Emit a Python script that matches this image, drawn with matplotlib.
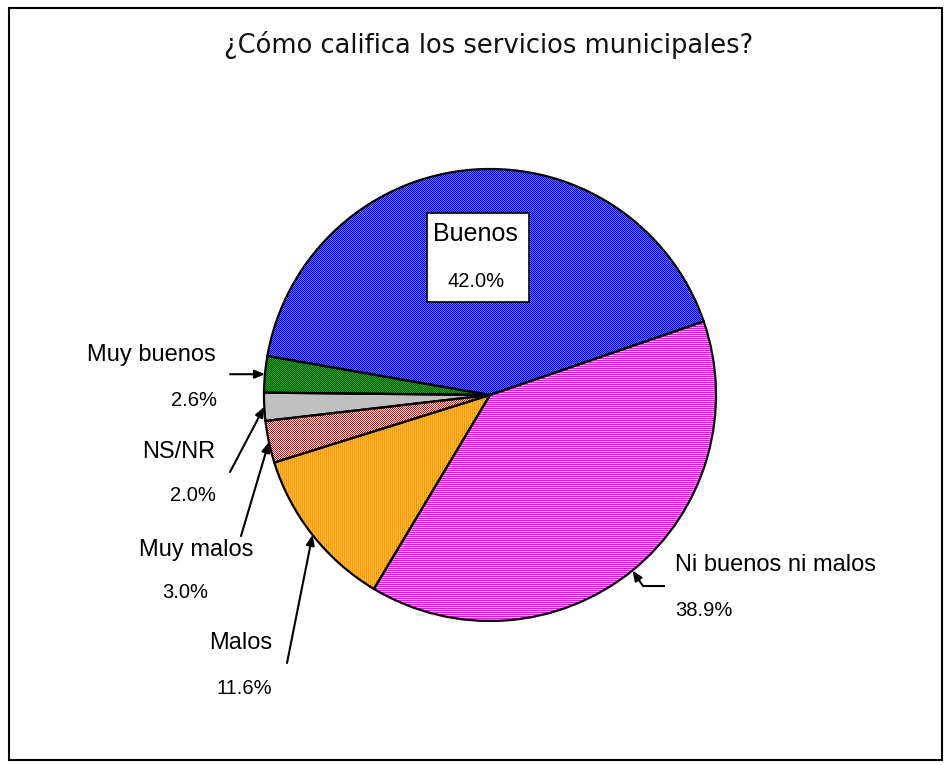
import numpy as np
import matplotlib
matplotlib.use("Agg")
import matplotlib.pyplot as plt
from matplotlib.patches import Rectangle

# ---- data ----
categories = ["Buenos", "Muy buenos", "NS/NR", "Muy malos", "Malos", "Ni buenos ni malos"]
values = [42.0, 2.6, 2.0, 3.0, 11.6, 38.9]
pct_labels = ["42.0%", "2.6%", "2.0%", "3.0%", "11.6%", "38.9%"]
title = "¿Cómo califica los servicios municipales?"

# ---- style ----
face_colors = ["#3333ff", "#2b8a2b", "#c0c0c0", "#ff6666", "#ff9a10", "#ff4dff"]
# two-tone textures: (colour A, colour B, pattern kind)
textures = [
    ((0, 0, 255), (110, 110, 255), "checker"),
    ((51, 153, 51), (0, 100, 0), "checker"),
    ((192, 192, 192), (192, 192, 192), "solid"),
    ((255, 0, 0), (255, 255, 255), "checker"),
    ((255, 153, 0), (255, 185, 70), "vlines"),
    ((255, 0, 255), (255, 160, 255), "hlines"),
]

W, H = 951, 765
fig = plt.figure(figsize=(W / 100, H / 100), dpi=100)
ax = fig.add_axes([0, 0, 1, 1])


def Y(y):
    return H - y


cx, cy, R = 490, Y(395), 226

wedges, _ = ax.pie(values, colors=face_colors, startangle=19, counterclock=True,
                   center=(cx, cy), radius=R, frame=True,
                   wedgeprops=dict(linewidth=0, edgecolor="none"))

# pixel textures clipped to each wedge
ii, jj = np.mgrid[0:H, 0:W]
for w, (ca, cb, kind) in zip(wedges, textures):
    if kind == "checker":
        m = (ii + jj) % 2 == 0
    elif kind == "vlines":
        m = jj % 2 == 0
    elif kind == "hlines":
        m = ii % 2 == 0
    else:
        m = np.ones((H, W), bool)
    img = np.where(m[..., None], np.array(ca, np.uint8), np.array(cb, np.uint8)).astype(np.uint8)
    im = ax.imshow(img, extent=(0, W, 0, H), origin="upper", interpolation="nearest",
                   zorder=1.5)
    im.set_clip_path(w)

# outlines
ax.pie(values, colors=["none"] * len(values), startangle=19, counterclock=True,
       center=(cx, cy), radius=R, frame=True,
       wedgeprops=dict(linewidth=1.6, edgecolor="black", facecolor="none", zorder=3))
ax.set_xlim(0, W)
ax.set_ylim(0, H)
ax.set_aspect("equal")
ax.axis("off")

LBL = dict(family="Liberation Sans", fontsize=17, color="black")
PCT = dict(family="Liberation Sans", fontsize=14.5, color="black")


def tip(w):
    th = np.deg2rad((w.theta1 + w.theta2) / 2)
    return cx + R * np.cos(th), cy + R * np.sin(th)


arrow = dict(arrowstyle="-|>,head_length=0.6,head_width=0.25", color="black",
             lw=1.5, shrinkA=0, shrinkB=0)

# Buenos label inside box
bx0, bx1, by0, by1 = 427, 529, 213, 302
ax.add_patch(Rectangle((bx0, Y(by1)), bx1 - bx0, by1 - by0, facecolor="white",
                       edgecolor="black", lw=1.2, zorder=5))
ax.text(475, Y(234), categories[0], ha="center", va="center", zorder=6,
        family="Liberation Sans", fontsize=18)
ax.text(476, Y(281), pct_labels[0], ha="center", va="center", zorder=6, **PCT)

# Muy buenos
ax.text(216, Y(355), categories[1], ha="right", va="center", **LBL)
ax.text(217, Y(400), pct_labels[1], ha="right", va="center", **PCT)
t = tip(wedges[1])
ax.annotate("", xy=t, xytext=(230, t[1]), arrowprops=arrow)

# NS/NR
ax.text(215, Y(452), categories[2], ha="right", va="center", **LBL)
ax.text(216, Y(495), pct_labels[2], ha="right", va="center", **PCT)
t = tip(wedges[2])
ax.annotate("", xy=t, xytext=(230, Y(472)), arrowprops=arrow)

# Muy malos
ax.text(253, Y(550), categories[3], ha="right", va="center", **LBL)
ax.text(208, Y(593), pct_labels[3], ha="right", va="center", **PCT)
t = tip(wedges[3])
ax.annotate("", xy=t, xytext=(241, Y(536)), arrowprops=arrow)

# Malos
ax.text(241, Y(643), categories[4], ha="center", va="center", **LBL)
ax.text(244, Y(688), pct_labels[4], ha="center", va="center", **PCT)
t = tip(wedges[4])
ax.annotate("", xy=t, xytext=(287, Y(663)), arrowprops=arrow)

# Ni buenos ni malos
ax.text(675, Y(565), categories[5], ha="left", va="center", **LBL)
ax.text(675, Y(610), pct_labels[5], ha="left", va="center", **PCT)
t = tip(wedges[5])
ax.plot([665, 643], [Y(586), Y(586)], color="black", lw=1.5, solid_capstyle="butt")
ax.annotate("", xy=t, xytext=(643, Y(586)), arrowprops=arrow)

# title
ax.text(489, Y(45), title, ha="center", va="center", family="DejaVu Sans",
        fontsize=18.5, color="#111111")

# outer frame
ax.add_patch(Rectangle((9, Y(760)), 933, 752, facecolor="none", edgecolor="black",
                       lw=1.5, zorder=10))

fig.savefig("out.png", dpi=100)
